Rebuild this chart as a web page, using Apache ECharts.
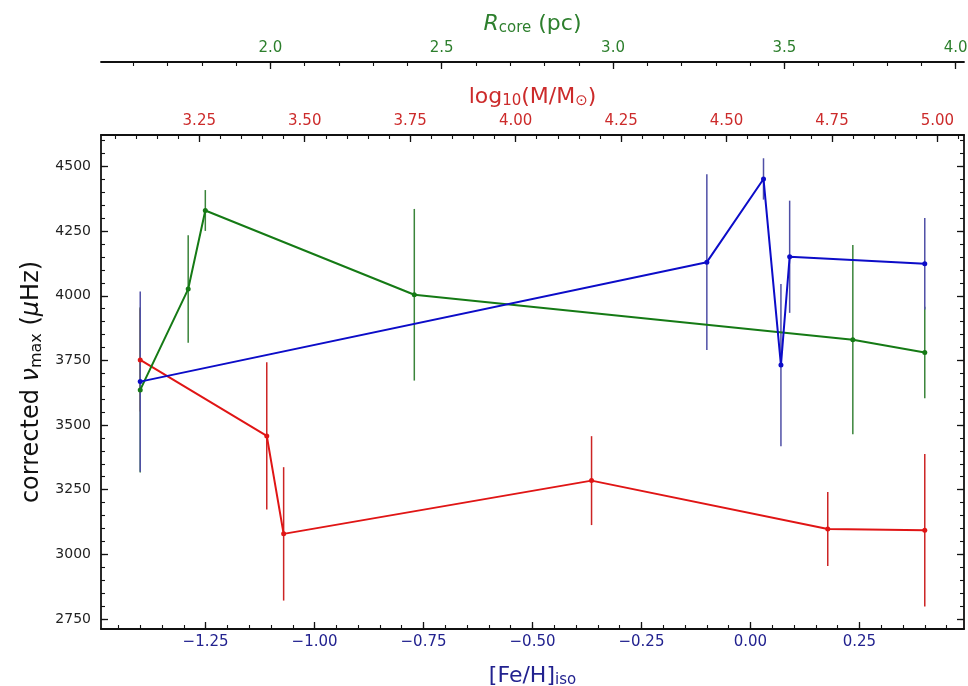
<!DOCTYPE html>
<html><head><meta charset="utf-8">
<script src="https://cdn.jsdelivr.net/npm/echarts@6/dist/echarts.min.js"></script>
<style>html,body{margin:0;padding:0;background:#fff}#c{width:968px;height:686px}</style>
</head><body><div id="c"></div>
<script>
// ---- data ----
const feh        = [-1.40, -0.10, 0.03, 0.07, 0.09, 0.40];
const numaxBlue  = [3668, 4130, 4452, 3732, 4151, 4124];
const errBlue    = [349, 340, 80, 314, 217, 177];

const logMass    = [3.11, 3.41, 3.45, 4.18, 4.74, 4.97];
const numaxRed   = [3752, 3458, 3079, 3285, 3098, 3093];
const errRed     = [200, 285, 258, 172, 143, 295];

const rcore      = [1.62, 1.76, 1.81, 2.42, 3.70, 3.91];
const numaxGreen = [3636, 4026, 4330, 4004, 3830, 3781];
const errGreen   = [320, 208, 79, 332, 366, 177];

// ---- tick labels ----
const fehTicks   = [-1.25, -1.00, -0.75, -0.50, -0.25, 0.00, 0.25];
const massTicks  = [3.25, 3.50, 3.75, 4.00, 4.25, 4.50, 4.75, 5.00];
const rcoreTicks = [2.0, 2.5, 3.0, 3.5, 4.0];
const numaxTicks = [2750, 3000, 3250, 3500, 3750, 4000, 4250, 4500];

// axis extents: data range plus 5% margin on each side
function padded(arr) {
  const lo = Math.min(...arr), hi = Math.max(...arr), p = 0.05 * (hi - lo);
  return [lo - p, hi + p];
}
const fehRange = padded(feh);
const massRange = padded(logMass);
const rcoreRange = padded(rcore);
const numaxRange = [2711, 4622];

function steps(lo, hi, st) {
  const out = [];
  const start = Math.ceil(lo / st - 1e-9);
  for (let k = start; k * st <= hi + 1e-9; k++) out.push(+(k * st).toFixed(6));
  return out;
}
const fehMinor = steps(fehRange[0], fehRange[1], 0.05);
const massMinor = steps(massRange[0], massRange[1], 0.05);
const rcoreMinor = steps(rcoreRange[0], rcoreRange[1], 0.1);
const numaxMinor = steps(numaxRange[0], numaxRange[1], 50);

const C = {
  blueLine: '#0c0cc8', blueErr: '#4f4fa6', blueText: '#22228f',
  redLine: '#e01515', redErr: '#cc2424', redText: '#cc2b2b',
  greenLine: '#157a15', greenErr: '#3a843a', greenText: '#2d7f2d'
};
const FONT = 'DejaVu Sans';
const sub = (size) => ({ fontSize: size, fontFamily: FONT, padding: [9, 0, 0, 0] });

function fmtMinus(v, d) { return (v < 0 ? '\u2212' : '') + Math.abs(v).toFixed(d); }

function majorX(pos, offset, range, ticks, color, dec, extra) {
  return Object.assign({
    type: 'value', position: pos, offset: offset, min: range[0], max: range[1],
    axisLine: { show: true, onZero: false, lineStyle: { color: '#111', width: 1.8 } },
    axisTick: { show: true, inside: true, length: 7, customValues: ticks, lineStyle: { color: '#111', width: 1.3 } },
    axisLabel: { show: true, customValues: ticks, color: color, fontSize: 15, fontFamily: FONT, margin: 6,
      formatter: v => fmtMinus(v, dec) },
    splitLine: { show: false }
  }, extra || {});
}
function minorX(pos, offset, range, ticks) {
  return {
    type: 'value', position: pos, offset: offset, min: range[0], max: range[1],
    axisLine: { show: false, onZero: false },
    axisTick: { show: true, inside: true, length: 4, customValues: ticks, lineStyle: { color: '#111', width: 1.1 } },
    axisLabel: { show: false }, splitLine: { show: false }
  };
}
function yAx(pos, ticks, len, showLine, label, extra) {
  return Object.assign({
    type: 'value', position: pos, min: numaxRange[0], max: numaxRange[1],
    axisLine: { show: showLine, onZero: false, lineStyle: { color: '#111', width: 1.8 } },
    axisTick: { show: true, inside: true, length: len, customValues: ticks, lineStyle: { color: '#111', width: len > 5 ? 1.3 : 1.1 } },
    axisLabel: label ? { show: true, customValues: ticks, color: '#222', fontSize: 14, fontFamily: FONT, margin: 10,
      formatter: v => String(Math.round(v)) } : { show: false },
    splitLine: { show: false }
  }, extra || {});
}

function lineSeries(xs, ys, xi, color) {
  return {
    type: 'line', xAxisIndex: xi, yAxisIndex: 0,
    data: xs.map((x, i) => [x, ys[i]]),
    symbol: 'circle', symbolSize: 5, showSymbol: true,
    lineStyle: { color: color, width: 2 }, itemStyle: { color: color },
    z: 3, silent: true, animation: false
  };
}
function errSeries(xs, ys, es, xi, color) {
  return {
    type: 'custom', xAxisIndex: xi, yAxisIndex: 0,
    data: xs.map((x, i) => [x, ys[i] - es[i], ys[i] + es[i]]),
    encode: { x: 0, y: [1, 2] },
    renderItem: (params, api) => {
      const p1 = api.coord([api.value(0), api.value(1)]);
      const p2 = api.coord([api.value(0), api.value(2)]);
      return { type: 'line', shape: { x1: p1[0], y1: p1[1], x2: p2[0], y2: p2[1] },
        style: { stroke: color, lineWidth: 1.5 } };
    },
    z: 2, silent: true, animation: false
  };
}

const chart = echarts.init(document.getElementById('c'), null, { renderer: 'canvas' });
chart.setOption({
  animation: false,
  backgroundColor: '#fff',
  textStyle: { fontFamily: FONT },
  grid: { left: 101, right: 4, top: 135, bottom: 57, containLabel: false, outerBoundsMode: 'none' },
  xAxis: [
    majorX('bottom', 0, fehRange, fehTicks, C.blueText, 2, {
      name: '{a|[Fe/H]}{s|iso}', nameLocation: 'middle', nameGap: 35,
      nameTextStyle: { color: C.blueText, rich: { a: { fontSize: 22, fontFamily: FONT, color: C.blueText }, s: Object.assign(sub(15), { color: C.blueText }) } }
    }),
    minorX('bottom', 0, fehRange, fehMinor),
    majorX('top', 0, massRange, massTicks, C.redText, 2, {
      name: '{a|log}{s|10}{a|(M/M}{s|\u2299}{a|)}', nameLocation: 'middle', nameGap: 26,
      nameTextStyle: { color: C.redText, rich: { a: { fontSize: 22, fontFamily: FONT, color: C.redText }, s: Object.assign(sub(15), { color: C.redText }) } }
    }),
    minorX('top', 0, massRange, massMinor),
    majorX('top', 73, rcoreRange, rcoreTicks, C.greenText, 1, {
      name: '{i|R}{s|core}{a| (pc)}', nameLocation: 'middle', nameGap: 25,
      nameTextStyle: { color: C.greenText, rich: {
        i: { fontSize: 22, fontFamily: FONT, fontStyle: 'italic', color: C.greenText },
        a: { fontSize: 22, fontFamily: FONT, color: C.greenText },
        s: Object.assign(sub(15), { color: C.greenText }) } }
    }),
    minorX('top', 73, rcoreRange, rcoreMinor)
  ],
  yAxis: [
    yAx('left', numaxTicks, 7, true, true, {
      name: '{a|corrected }{i|\u03bd}{s|max}{a| (}{i|\u03bc}{a|Hz)}', nameLocation: 'middle', nameGap: 54, nameRotate: 90,
      nameTextStyle: { color: '#111', rich: {
        a: { fontSize: 24, fontFamily: FONT, color: '#111' },
        i: { fontSize: 24, fontFamily: FONT, fontStyle: 'italic', color: '#111' },
        s: Object.assign(sub(16), { color: '#111' }) } }
    }),
    yAx('left', numaxMinor, 4, false, false),
    yAx('right', numaxTicks, 7, true, false),
    yAx('right', numaxMinor, 4, false, false)
  ],
  series: [
    errSeries(logMass, numaxRed, errRed, 2, C.redErr),
    lineSeries(logMass, numaxRed, 2, C.redLine),
    errSeries(rcore, numaxGreen, errGreen, 4, C.greenErr),
    lineSeries(rcore, numaxGreen, 4, C.greenLine),
    errSeries(feh, numaxBlue, errBlue, 0, C.blueErr),
    lineSeries(feh, numaxBlue, 0, C.blueLine)
  ]
});
</script>
</body></html>
